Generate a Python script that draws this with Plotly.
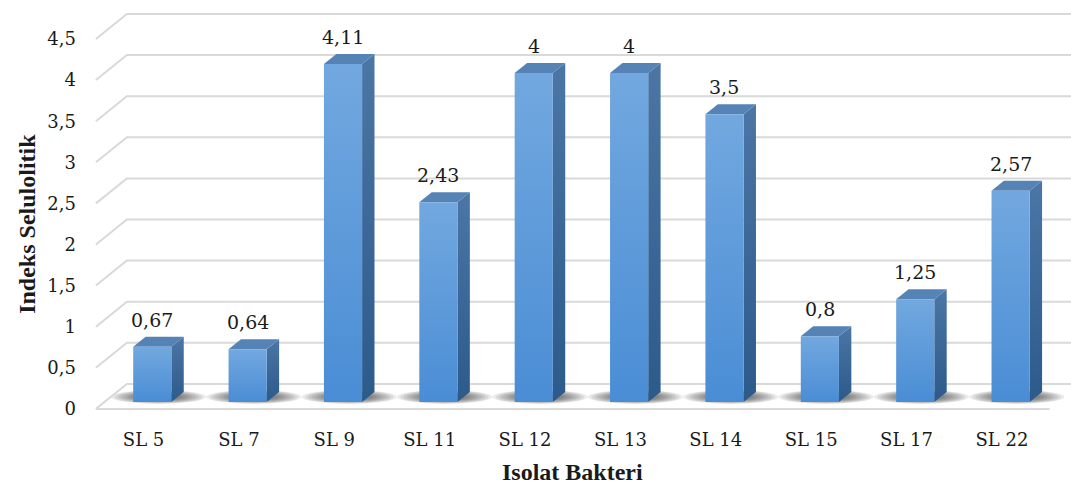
import plotly.graph_objects as go

# ---- data ----
categories = ["SL 5", "SL 7", "SL 9", "SL 11", "SL 12", "SL 13", "SL 14", "SL 15", "SL 17", "SL 22"]
values = [0.67, 0.64, 4.11, 2.43, 4, 4, 3.5, 0.8, 1.25, 2.57]
y_ticks = [0, 0.5, 1, 1.5, 2, 2.5, 3, 3.5, 4, 4.5]
x_title = "Isolat Bakteri"
y_title = "Indeks Selulolitik"

# ---- oblique projection settings ----
W, H = 1071, 488
PX_X = 95.37          # pixels per category step
PX_Y = 82.2           # pixels per value unit
DEPTH_X = 31 / PX_X   # full floor depth, in x data units
DEPTH_Y = 25 / PX_Y   # full floor depth, in y data units
F_FRONT = 0.28        # bar front face position in the depth
F_BACK = 0.68         # bar back face position in the depth
BAR_W = 0.4

M_L, M_R, M_T, M_B = 94, 0, 5, 75
x_lo = -0.52
x_hi = x_lo + (W - M_L - M_R) / PX_X
y_lo = -0.05
y_hi = y_lo + (H - M_T - M_B) / PX_Y

TICK_FONT = dict(family="DejaVu Serif", size=18, color="#1a1a1a")
LABEL_FONT = dict(family="DejaVu Serif", size=19, color="#1a1a1a")
TITLE_FONT = dict(family="Liberation Serif", size=24, color="#1a1a1a")
GRID = "#d9d9d9"

n = len(categories)


def fmt(v):
    return f"{v:g}".replace(".", ",")


def paper_x(x):
    return (x - x_lo) / (x_hi - x_lo)


def paper_y(y):
    return (y - y_lo) / (y_hi - y_lo)


fig = go.Figure()

# walls: side-wall diagonals and back-wall horizontals for each tick value
gx, gy = [], []
for v in y_ticks:
    gx += [-0.5, -0.5 + DEPTH_X, x_hi + 1, None]
    gy += [v, v + DEPTH_Y, v + DEPTH_Y, None]
fig.add_trace(go.Scatter(x=gx, y=gy, mode="lines",
                         line=dict(color=GRID, width=2), hoverinfo="skip"))

# floor front edge
fig.add_trace(go.Scatter(x=[-0.5, n - 0.5], y=[0, 0], mode="lines",
                         line=dict(color=GRID, width=2), hoverinfo="skip"))

# soft shadows on the floor under each bar
shapes = []
mid = (F_FRONT + F_BACK) / 2
layers = 8
for i in range(n):
    cx = i + mid * DEPTH_X
    cy = mid * DEPTH_Y
    for k in range(layers):
        t = k / (layers - 1)
        hw = (1.0 - 0.5 * t) / 2
        hh = (0.17 - 0.08 * t) / 2
        shapes.append(dict(type="circle", xref="x", yref="y", layer="below",
                           x0=cx - hw, x1=cx + hw, y0=cy - hh, y1=cy + hh,
                           fillcolor="rgba(30,30,30,0.09)", line=dict(width=0)))

# 3D bars built from front, side and top faces
dxf, dyf = F_FRONT * DEPTH_X, F_FRONT * DEPTH_Y
ddx, ddy = (F_BACK - F_FRONT) * DEPTH_X, (F_BACK - F_FRONT) * DEPTH_Y
annotations = []
for i, v in enumerate(values):
    xl = i - BAR_W / 2 + dxf
    xr = i + BAR_W / 2 + dxf
    yb = dyf
    yt = v + dyf
    # right side face
    fig.add_trace(go.Scatter(
        x=[xr, xr, xr + ddx, xr + ddx, xr], y=[yb, yt, yt + ddy, yb + ddy, yb],
        mode="lines", line=dict(width=0), fill="toself",
        fillgradient=dict(type="vertical",
                          colorscale=[[0, "#2c5a8a"], [1, "#4b76a6"]]),
        hoverinfo="skip"))
    # top face
    fig.add_trace(go.Scatter(
        x=[xl, xr, xr + ddx, xl + ddx, xl], y=[yt, yt, yt + ddy, yt + ddy, yt],
        mode="lines", line=dict(width=0), fill="toself", fillcolor="#5683b6",
        hoverinfo="skip"))
    # front face
    fig.add_trace(go.Scatter(
        x=[xl, xr, xr, xl, xl], y=[yb, yb, yt, yt, yb],
        mode="lines", line=dict(width=0), fill="toself",
        fillgradient=dict(type="vertical",
                          colorscale=[[0, "#4a8dd5"], [1, "#72a8df"]]),
        hoverinfo="skip"))
    # value label
    annotations.append(dict(x=i + dxf, y=v + F_BACK * DEPTH_Y, xref="x", yref="y",
                            text=fmt(v), showarrow=False, yanchor="middle",
                            yshift=17, font=LABEL_FONT))

# axis titles (paper coordinates, they sit outside the plotting area)
annotations.append(dict(x=paper_x((n - 1) / 2), y=paper_y(-0.772), xref="paper", yref="paper",
                        text=f"<b>{x_title}</b>", showarrow=False, font=TITLE_FONT,
                        xanchor="center", yanchor="middle"))
annotations.append(dict(x=paper_x(-1.2235), y=paper_y(y_ticks[-1] / 2), xref="paper", yref="paper",
                        text=f"<b>{y_title}</b>", showarrow=False, font=TITLE_FONT,
                        textangle=-90, xanchor="center", yanchor="middle"))

fig.update_layout(
    width=W, height=H,
    margin=dict(l=M_L, r=M_R, t=M_T, b=M_B, pad=0),
    paper_bgcolor="white", plot_bgcolor="white",
    showlegend=False, hovermode=False,
    shapes=shapes, annotations=annotations,
    xaxis=dict(range=[x_lo, x_hi], tickvals=list(range(n)), ticktext=categories,
               showgrid=False, zeroline=False, showline=False, ticks="",
               tickfont=TICK_FONT, ticklabelstandoff=14, fixedrange=True),
    yaxis=dict(range=[y_lo, y_hi], tickvals=y_ticks, ticktext=[fmt(t) for t in y_ticks],
               showgrid=False, zeroline=False, showline=False, ticks="",
               tickfont=TICK_FONT, ticklabelstandoff=17, fixedrange=True),
)

fig.write_html("out.html")
